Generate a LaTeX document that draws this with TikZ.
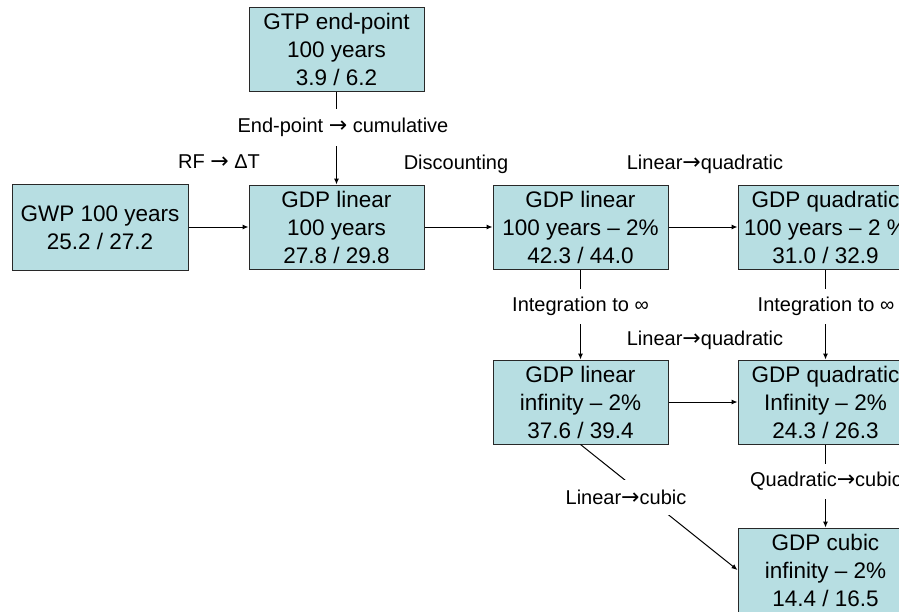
\documentclass[tikz,border=0pt]{standalone}
\usepackage{fontspec}
\setmainfont{Liberation Sans}
\newfontfamily\arrowfont{DejaVu Sans}
\newcommand{\rarr}{{\arrowfont\fontsize{22}{24}\selectfont →}}
\usetikzlibrary{arrows.meta}
\definecolor{boxfill}{RGB}{183,222,226}
\definecolor{boxline}{RGB}{40,40,40}
\tikzset{
  gbox/.style={draw=boxline, line width=1pt, fill=boxfill, minimum width=175pt,
    minimum height=84pt, inner sep=0pt, align=center,
    font=\fontsize{22.5}{28}\selectfont},
  lbl/.style={font=\fontsize{20}{24}\selectfont, inner sep=0pt, align=center},
  cutlbl/.style={lbl, fill=white, minimum height=35pt, inner xsep=1pt},
  conn/.style={line width=1pt, -{Latex[length=6pt,width=5pt]}},
}
\begin{document}
\begin{tikzpicture}[x=1pt,y=-1pt]
\useasboundingbox (0,0) rectangle (899,611);
\clip (0,0) rectangle (899,611);
\fill[white] (0,0) rectangle (899,611);

\node[gbox] (gtp) at (336.5,49) {GTP end-point\\100 years\\3.9 / 6.2};
\node[gbox, minimum width=176pt, minimum height=86pt] (gwp) at (100,227.5) {GWP 100 years\\25.2 / 27.2};
\node[gbox] (gdp1) at (336.5,227) {GDP linear\\100 years\\27.8 / 29.8};
\node[gbox] (gdp2) at (580.5,227) {GDP linear\\100 years -- 2\%\\42.3 / 44.0};
\node[gbox] (gdpq) at (825.5,227) {GDP quadratic\\100 years -- 2 \%\\31.0 / 32.9};
\node[gbox] (gdpli) at (580.5,402) {GDP linear\\infinity -- 2\%\\37.6 / 39.4};
\node[gbox] (gdpqi) at (825.5,402) {GDP quadratic\\Infinity -- 2\%\\24.3 / 26.3};
\node[gbox] (cubic) at (825.5,570) {GDP cubic\\infinity -- 2\%\\14.4 / 16.5};

% connectors
\draw[conn] (gtp.south) -- (gdp1.north);
\draw[conn] (gwp.east |- gdp1.west) -- (gdp1.west);
\draw[conn] (gdp1.east) -- (gdp2.west);
\draw[conn] (gdp2.east) -- (gdpq.west);
\draw[conn] (gdp2.south) -- (gdpli.north);
\draw[conn] (gdpq.south) -- (gdpqi.north);
\draw[conn] (gdpli.east) -- (gdpqi.west);
\draw[conn] (gdpqi.south) -- (cubic.north);
\draw[conn] (gdpli.south) -- (cubic.west);

% labels on connectors
\node[cutlbl, minimum height=37pt] (l1) at (343,127) {End-point \rarr{} cumulative};
\node[cutlbl] (l2) at (580.5,306) {Integration to ∞};
\node[cutlbl] (l3) at (826,306) {Integration to ∞};
\node[cutlbl] (l4) at (826,481) {Quadratic\rarr{}cubic};
\node[cutlbl] (l5) at (626,497) {Linear\rarr{}cubic};

% free labels
\node[lbl] (l6) at (219,162) {RF \rarr{} ΔT};
\node[lbl] (l7) at (456,164) {Discounting};
\node[lbl] (l8) at (705,164) {Linear\rarr{}quadratic};
\node[lbl] (l9) at (705,340) {Linear\rarr{}quadratic};
\end{tikzpicture}
\end{document}
